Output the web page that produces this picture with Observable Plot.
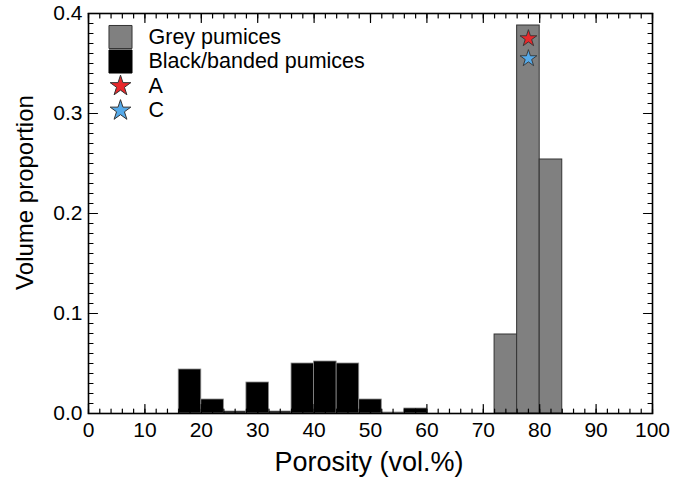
<!DOCTYPE html>
<html>
<head>
<meta charset="utf-8">
<script src="https://cdn.jsdelivr.net/npm/d3@7"></script>
<script src="https://cdn.jsdelivr.net/npm/@observablehq/plot@0.6"></script>
<style>
  html, body { margin: 0; padding: 0; background: white; }
</style>
</head>
<body>
<div id="chart"></div>
<script>
// ---- data ----
const binWidth = 4;
const blackBinStart = [16, 20, 24, 28, 32, 36, 40, 44, 48, 52, 56];
const blackProportion = [0.044, 0.014, 0.002, 0.031, 0.002, 0.050, 0.052, 0.050, 0.014, 0.001, 0.005];
const greyBinStart = [72, 76, 80];
const greyProportion = [0.079, 0.388, 0.254];
const sampleNames = ["A", "C"];
const samplePorosity = [78, 78];
const sampleProportion = [0.375, 0.355];
const sampleColors = ["#e8282b", "#55aaea"];
const legendLabels = ["Grey pumices", "Black/banded pumices", "A", "C"];
const xTicks = d3.range(0, 101, 10);
const xMinorTicks = d3.range(0, 101, 2);
const yTicks = [0, 0.1, 0.2, 0.3, 0.4];
const yMinorTicks = d3.range(0, 41, 1).map(d => d / 100);
const xLabel = "Porosity (vol.%)";
const yLabel = "Volume proportion";

// ---- derived tables ----
const blackBars = blackBinStart.map((s, i) => ({x1: s, x2: s + binWidth, v: blackProportion[i]}));
const greyBars = greyBinStart.map((s, i) => ({x1: s, x2: s + binWidth, v: greyProportion[i]}));
const samples = sampleNames.map((n, i) => ({name: n, x: samplePorosity[i], y: sampleProportion[i], color: sampleColors[i]}));

const greyFill = "#808080";
const tickShape = {draw(ctx, l) { ctx.moveTo(0, 0); ctx.lineTo(0, -l); }};

function tickMarks(values, channel, side, len) {
  const rot = {bottom: 0, top: 180, left: 90, right: -90}[side];
  return Plot.vector(values, {
    [channel]: d => d, frameAnchor: side, anchor: "start", rotate: rot,
    length: len, shape: tickShape, stroke: "black", strokeWidth: 1.2
  });
}

// legend
const legendSymbols = [
  {symbol: "square", fill: greyFill, stroke: "#333", r: 13},
  {symbol: "square", fill: "black", stroke: "black", r: 13},
  {symbol: "star", fill: sampleColors[0], stroke: "#333", r: 6.5},
  {symbol: "star", fill: sampleColors[1], stroke: "#333", r: 6.5}
];
const legendMarks = legendLabels.flatMap((label, i) => [
  Plot.dot([label], {frameAnchor: "top-left", dx: 32, dy: 23.5 + i * 24.5,
    symbol: legendSymbols[i].symbol, r: legendSymbols[i].r,
    fill: legendSymbols[i].fill, stroke: legendSymbols[i].stroke, strokeWidth: 1}),
  Plot.text([label], {frameAnchor: "top-left", dx: 60, dy: 23.5 + i * 24.5,
    text: d => d, textAnchor: "start", lineAnchor: "middle", fontSize: 21.5, fill: "black"})
]);

const chart = Plot.plot({
  width: 683,
  height: 481,
  marginLeft: 88,
  marginRight: 31,
  marginTop: 13,
  marginBottom: 68,
  style: {fontFamily: "'Liberation Sans', Arial, Helvetica, sans-serif", background: "white", color: "black"},
  x: {domain: [0, 100]},
  y: {domain: [0, 0.4]},
  marks: [
    Plot.rectY(blackBars, {x1: "x1", x2: "x2", y: "v", fill: "black", stroke: "#8a8a8a", strokeWidth: 0.8}),
    Plot.rectY(greyBars, {x1: "x1", x2: "x2", y: "v", fill: greyFill, stroke: "#333", strokeWidth: 1}),
    Plot.dot(samples, {x: "x", y: "y", symbol: "star", r: 5.3, fill: d => d.color, stroke: "#333", strokeWidth: 0.9}),
    tickMarks(xMinorTicks, "x", "bottom", 4.5),
    tickMarks(xMinorTicks, "x", "top", 4.5),
    tickMarks(xTicks, "x", "bottom", 9),
    tickMarks(xTicks, "x", "top", 9),
    tickMarks(yMinorTicks, "y", "left", 4.5),
    tickMarks(yMinorTicks, "y", "right", 4.5),
    tickMarks(yTicks, "y", "left", 9),
    tickMarks(yTicks, "y", "right", 9),
    Plot.frame({stroke: "black", strokeWidth: 1.6}),
    Plot.axisX({ticks: xTicks, tickSize: 0, tickPadding: 9, fontSize: 21, label: null}),
    Plot.axisY({ticks: yTicks, tickSize: 0, tickPadding: 6, fontSize: 21, label: null, tickFormat: d => d.toFixed(1)}),
    Plot.text([xLabel], {frameAnchor: "bottom", dy: 49, dx: -1.5, text: d => d, textAnchor: "middle", lineAnchor: "middle", fontSize: 27, fill: "black"}),
    Plot.text([yLabel], {frameAnchor: "left", dx: -63, dy: -21, rotate: -90, text: d => d, textAnchor: "middle", lineAnchor: "middle", fontSize: 24, fill: "black"}),
    ...legendMarks
  ]
});
document.getElementById("chart").appendChild(chart);
</script>
</body>
</html>
